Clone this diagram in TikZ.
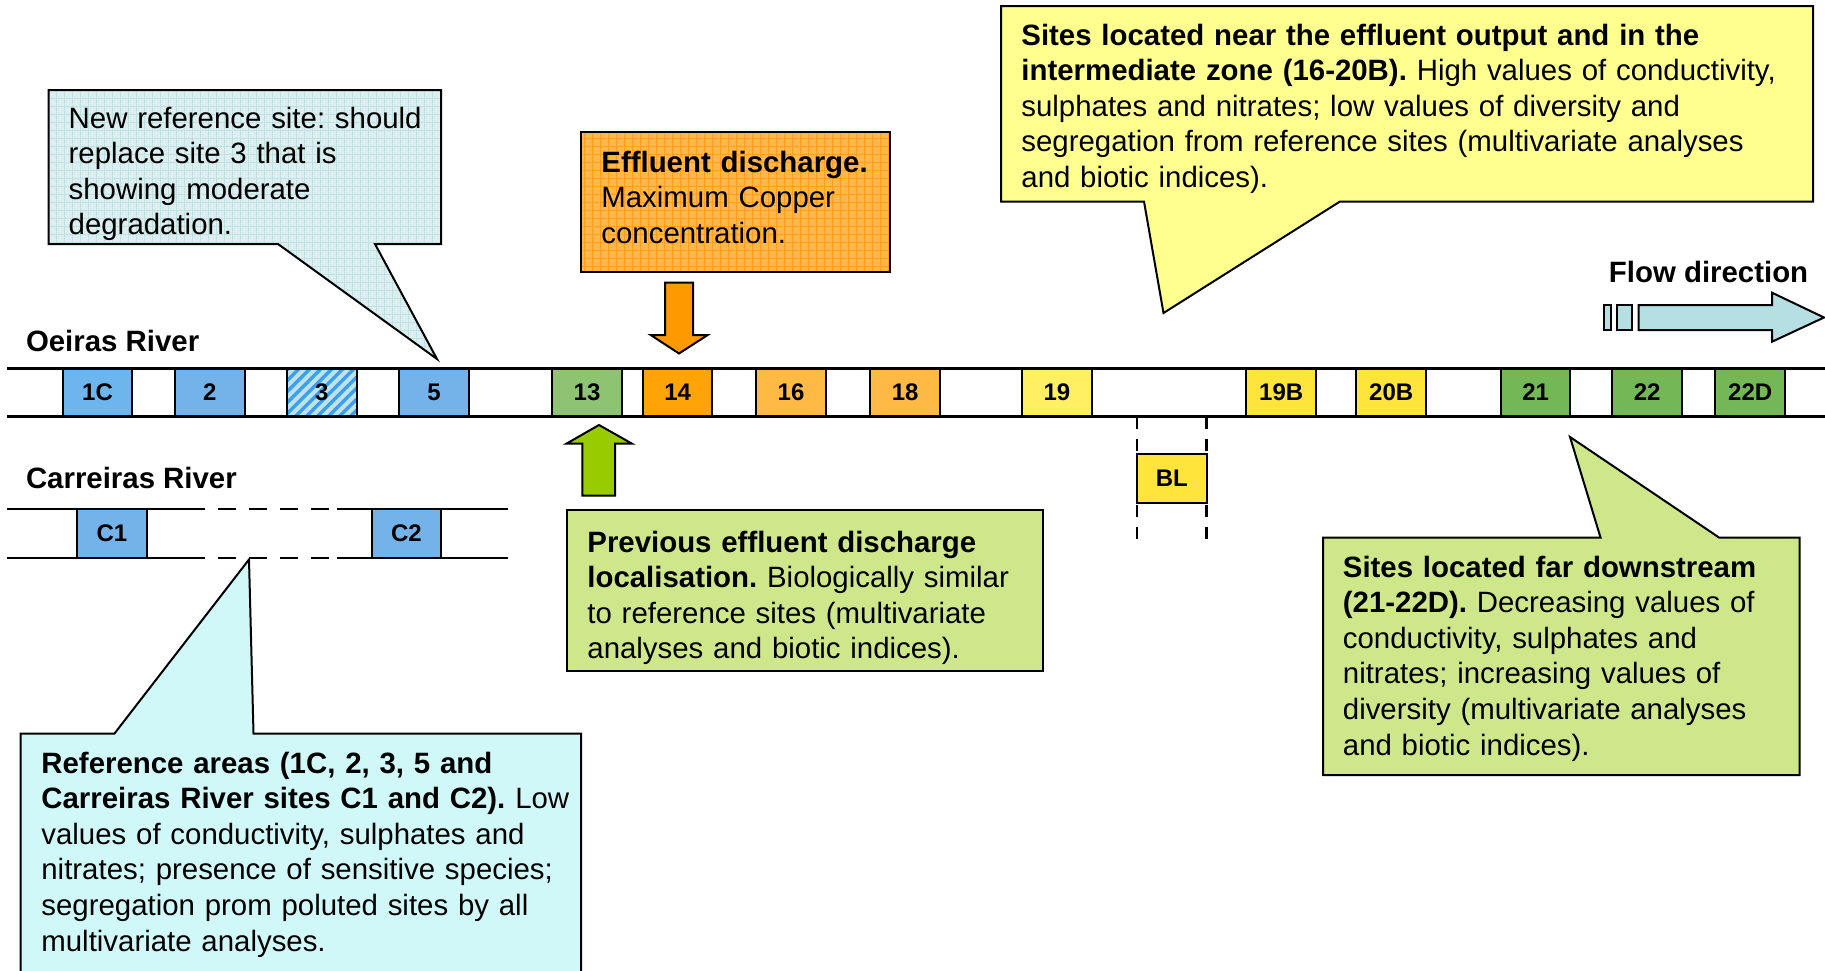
\documentclass[tikz,border=0pt]{standalone}
\usepackage{fontspec}
\setmainfont{Liberation Sans}
\usetikzlibrary{patterns.meta}
\frenchspacing

% fine squared texture used inside two of the boxes
\tikzdeclarepattern{
  name=cellgrid,
  bottom left={(-0.25pt,-0.25pt)},
  top right={(3.75pt,3.75pt)},
  tile size={(4pt,4pt)},
  code={
    \draw[line width=0.45pt] (0pt,-0.25pt) -- (0pt,3.75pt);
    \draw[line width=0.45pt] (-0.25pt,0pt) -- (3.75pt,0pt);
  }
}

\definecolor{siteblue}{HTML}{6DB5ED}
\definecolor{sitebluedot}{HTML}{74B2EA}
\definecolor{hatchbg}{HTML}{BEE3E9}
\definecolor{hatchfg}{HTML}{3A9DF6}
\definecolor{greenA}{HTML}{8EC471}
\definecolor{greenB}{HTML}{73B757}
\definecolor{orangeA}{HTML}{FFA406}
\definecolor{orangeB}{HTML}{FFBA45}
\definecolor{yellowA}{HTML}{FFEF62}
\definecolor{yellowB}{HTML}{FFE53B}
\definecolor{noteblue}{HTML}{DDEEF0}
\definecolor{notebluegrid}{HTML}{C0E0E2}
\definecolor{noteorange}{HTML}{FFB849}
\definecolor{noteorangegrid}{HTML}{FF9E1E}
\definecolor{noteyellow}{HTML}{FFFF90}
\definecolor{notegreen}{HTML}{CFE78B}
\definecolor{notecyan}{HTML}{D0F8F9}
\definecolor{flowfill}{HTML}{B6DFE3}
\definecolor{arrowgreen}{HTML}{99CC00}
\definecolor{arroworange}{HTML}{FF9900}

\begin{document}
\begin{tikzpicture}[x=0.5pt,y=-0.5pt,
  site/.style={draw=black, line width=1pt, minimum width=34.75pt,
    minimum height=24.25pt, inner sep=0pt,
    font=\fontsize{12pt}{14pt}\selectfont\bfseries},
  bubble/.style={draw=black, line width=1pt, line join=miter},
  gridded/.style 2 args={preaction={fill=#1},
    preaction={pattern=cellgrid, pattern color=#2}},
  blurb/.style={anchor=base west, inner sep=0pt, align=left,
    font=\fontsize{14.7pt}{17.8pt}\selectfont, text width=#1},
  rivername/.style={anchor=base west, inner sep=0pt,
    font=\fontsize{14.7pt}{17.8pt}\selectfont\bfseries},
  rivbank/.style={line width=1.5pt},
  carbank/.style={line width=1.3pt},
  cargap/.style={line width=1.3pt, dash pattern=on 9pt off 6.5pt},
  bldash/.style={line width=1.2pt, dash pattern=on 6pt off 5pt},
  fatarrow/.style={draw=black, line width=1pt, line join=miter},
  stripes/.style={path picture={
    \foreach \k in {0,...,13}{
      \draw[hatchfg, line width=1.7pt]
        ([xshift=\k*5.5pt-40pt]path picture bounding box.south west)
        -- ++(32pt,32pt);}}}
]
\useasboundingbox (0,0) rectangle (1825,970);
\clip (0,0) rectangle (1825,970);

% ---------- callouts ----------
\draw[bubble, gridded={noteblue}{notebluegrid}]
  (48.5,90) -- (441,90) -- (441,244) -- (375,244) -- (437,359)
  -- (278,244) -- (48.5,244) -- cycle;
\node[blurb=200pt] (newref) at (68.3,128)
  {New reference site: should\\replace site 3 that is\\showing moderate\\degradation.};

\draw[bubble, gridded={noteorange}{noteorangegrid}]
  (581,132) rectangle (890,272);
\node[blurb=160pt] (effluent) at (601,172)
  {\textbf{Effluent discharge.}\\Maximum Copper\\concentration.};

\draw[bubble, fill=noteyellow]
  (1001,6) -- (1813,6) -- (1813,201.5) -- (1340,201.5) -- (1163.5,313)
  -- (1144,201.5) -- (1001,201.5) -- cycle;
\node[blurb=400pt] (nearzone) at (1021,45)
  {\textbf{Sites located near the effluent output and in the}\\
   \textbf{intermediate zone (16-20B).} High values of conductivity,\\
   sulphates and nitrates; low values of diversity and\\
   segregation from reference sites (multivariate analyses\\
   and biotic indices).};

\draw[bubble, fill=notegreen] (567,510) rectangle (1043,670.5);
\node[blurb=230pt] (previous) at (587,552)
  {\textbf{Previous effluent discharge}\\
   \textbf{localisation.} Biologically similar\\
   to reference sites (multivariate\\
   analyses and biotic indices).};

\draw[bubble, fill=notecyan]
  (20.5,733.5) -- (114.5,733.5) -- (249,559.5) -- (253.5,733.5)
  -- (581,733.5) -- (581,1000) -- (20.5,1000) -- cycle;
\node[blurb=270pt] (refareas) at (41,773)
  {\textbf{Reference areas (1C, 2, 3, 5 and}\\
   \textbf{Carreiras River sites C1 and C2).} Low\\
   values of conductivity, sulphates and\\
   nitrates; presence of sensitive species;\\
   segregation prom poluted sites by all\\
   multivariate analyses.};

\draw[bubble, fill=notegreen]
  (1323,537.5) -- (1600.5,537.5) -- (1570,437) -- (1719,537.5)
  -- (1799.5,537.5) -- (1799.5,775) -- (1323,775) -- cycle;
\node[blurb=230pt] (downstream) at (1342.5,577)
  {\textbf{Sites located far downstream}\\
   \textbf{(21-22D).} Decreasing values of\\
   conductivity, sulphates and\\
   nitrates; increasing values of\\
   diversity (multivariate analyses\\
   and biotic indices).};

% ---------- discharge arrows ----------
\draw[fatarrow, fill=arroworange]
  (665,282.7) -- (693,282.7) -- (693,335) -- (707.7,335) -- (679,353.5)
  -- (650.7,335) -- (665,335) -- cycle;
\draw[fatarrow, fill=arrowgreen]
  (599,425) -- (631.7,443.5) -- (615,443.5) -- (615,495.5)
  -- (582.3,495.5) -- (582.3,443.5) -- (566.7,443.5) -- cycle;

% ---------- flow direction ----------
\node[rivername] (flowlabel) at (1608.5,282) {Flow direction};
\draw[fatarrow, fill=flowfill] (1603.5,305) rectangle (1611.3,330);
\draw[fatarrow, fill=flowfill] (1617.3,305) rectangle (1631.6,330);
\draw[fatarrow, fill=flowfill]
  (1638.5,305) -- (1772,305) -- (1772,292.7) -- (1824,317.5)
  -- (1772,341.7) -- (1772,330) -- (1638.5,330) -- cycle;

% ---------- Oeiras River ----------
\node[rivername] (oeiras) at (25.6,351.5) {Oeiras River};
\node[site, fill=siteblue]     (s1C)  at (97.5,392.3)   {1C};
\node[site, fill=sitebluedot]  (s2)   at (209.8,392.3)  {2};
\node[site, fill=hatchbg, stripes] (s3) at (321.9,392.3) {3};
\node[site, fill=sitebluedot]  (s5)   at (434,392.3)    {5};
\node[site, fill=greenA]       (s13)  at (587,392.3)    {13};
\node[site, fill=orangeA]      (s14)  at (677.6,392.3)  {14};
\node[site, fill=orangeB]      (s16)  at (791,392.3)    {16};
\node[site, fill=orangeB]      (s18)  at (905.2,392.3)  {18};
\node[site, fill=yellowA]      (s19)  at (1056.9,392.3) {19};
\node[site, fill=yellowB]      (s19B) at (1281.2,392.3) {19B};
\node[site, fill=yellowB]      (s20B) at (1391.2,392.3) {20B};
\node[site, fill=greenB]       (s21)  at (1535.6,392.3) {21};
\node[site, fill=greenB]       (s22)  at (1647.2,392.3) {22};
\node[site, fill=greenB]       (s22D) at (1750.2,392.3) {22D};
\coordinate (oTopW) at (7,368);    \coordinate (oTopE) at (1825,368);
\coordinate (oBotW) at (7,416.5);  \coordinate (oBotE) at (1825,416.5);
\draw[rivbank] (oTopW) -- (oTopE);
\draw[rivbank] (oBotW) -- (oBotE);

% side branch below the main channel
\coordinate (blTopL) at (1137,416.5); \coordinate (blEndL) at (1137,547);
\coordinate (blTopR) at (1206.5,416.5); \coordinate (blEndR) at (1206.5,547);
\draw[bldash] (blTopL) -- (blEndL);
\draw[bldash] (blTopR) -- (blEndR);
\node[site, fill=yellowB, minimum height=24.65pt] (sBL) at (1171.8,478.7) {BL};

% ---------- Carreiras River ----------
\node[rivername] (carreiras) at (25.6,488.5) {Carreiras River};
\node[site, fill=sitebluedot, minimum height=24.5pt] (sC1) at (112,533.5) {C1};
\node[site, fill=sitebluedot, minimum height=24.5pt] (sC2) at (406.5,533.5) {C2};
\coordinate (cTopA) at (7,509);   \coordinate (cTopB) at (187,509);
\coordinate (cTopC) at (337,509); \coordinate (cTopD) at (508,509);
\coordinate (cBotA) at (7,558);   \coordinate (cBotB) at (187,558);
\coordinate (cBotC) at (337,558); \coordinate (cBotD) at (508,558);
\draw[carbank] (cTopA) -- (cTopB) (cTopC) -- (cTopD);
\draw[carbank] (cBotA) -- (cBotB) (cBotC) -- (cBotD);
\draw[cargap] (cTopB) -- (cTopC);
\draw[cargap] (cBotB) -- (cBotC);
\end{tikzpicture}
\end{document}
